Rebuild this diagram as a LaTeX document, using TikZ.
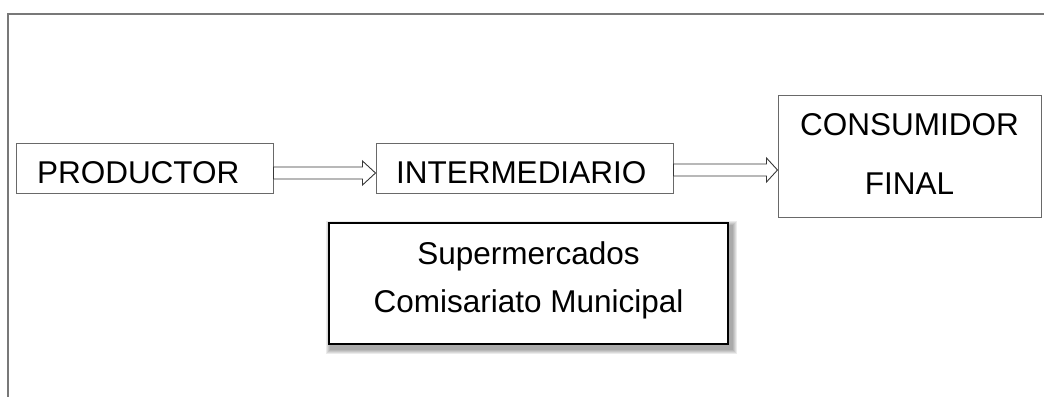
\documentclass[tikz,border=0pt]{standalone}
\usepackage{fontspec}
\setmainfont{Liberation Sans}
\usetikzlibrary{calc,backgrounds}
\definecolor{boxgray}{RGB}{105,105,105}
\definecolor{framegray}{RGB}{120,120,120}
\definecolor{arrowgray}{RGB}{55,55,55}
\newcommand\bigfa{\fontsize{31.5}{59}\selectfont}
\newcommand\bigfb{\fontsize{31.5}{48}\selectfont}
\tikzset{
  box/.style={draw=boxgray, line width=1pt, fill=white, inner ysep=0pt},
  shadowbox/.style={draw=black, line width=2pt, fill=white, inner ysep=0pt, inner xsep=0pt},
  blockarrow/.style={draw=arrowgray, fill=white, line width=0.9pt, line join=miter},
  frameline/.style={draw=framegray, line width=1.2pt}
}
\begin{document}
\begin{tikzpicture}[x=1pt,y=-1pt]
\useasboundingbox (0,0) rectangle (1044,397);
% frame
\coordinate (ftl) at (8,14);
\coordinate (ftr) at (1044,14);
\coordinate (fbl) at (8,397);
\draw[frameline] (ftr) -- (ftl) -- (fbl);
% boxes
\node[box, minimum height=50pt, text width=215pt, inner xsep=21pt, align=left, font=\bigfa]
  (prod) at (144.5,168) {\rule{0pt}{32pt}PRODUCTOR};
\node[box, minimum height=50pt, text width=257pt, inner xsep=20pt, align=left, font=\bigfa]
  (inter) at (524.5,168) {\rule{0pt}{31pt}INTERMEDIARIO};
\node[box, minimum width=263pt, minimum height=122pt, inner xsep=0pt, align=center, font=\bigfa]
  (cons) at (909.5,156) {\rule{0pt}{30pt}CONSUMIDOR\\FINAL\rule[-13pt]{0pt}{13pt}};
\node[shadowbox, minimum width=399pt, minimum height=121pt, align=center, font=\bigfb]
  (super) at (528.5,283.5) {\rule{0pt}{30pt}Supermercados\\Comisariato Municipal\rule[-21pt]{0pt}{21pt}};
% shadow of the lower box
\begin{scope}[on background layer]
  \foreach \i in {1,...,5} {
    \fill[black, opacity=0.08] ($(super.south west)+(3-\i,4+\i)$) rectangle ($(super.north east)+(3+\i,4-\i)$);
  }
\end{scope}
% arrows
\coordinate (a1s) at ($(prod.east)+(0,5)$);
\coordinate (a1e) at ($(inter.west)+(0,5)$);
\draw[blockarrow] ($(a1s)+(0,-6)$) -- ($(a1e)+(-13,-6)$) -- ($(a1e)+(-13,-12)$) -- (a1e)
  -- ($(a1e)+(-13,12)$) -- ($(a1e)+(-13,6)$) -- ($(a1s)+(0,6)$) -- cycle;
\coordinate (a2s) at ($(inter.east)+(0,2)$);
\coordinate (a2e) at (cons.west |- a2s);
\draw[blockarrow] ($(a2s)+(0,-6)$) -- ($(a2e)+(-11,-6)$) -- ($(a2e)+(-11,-12)$) -- (a2e)
  -- ($(a2e)+(-11,12)$) -- ($(a2e)+(-11,6)$) -- ($(a2s)+(0,6)$) -- cycle;
\end{tikzpicture}
\end{document}
